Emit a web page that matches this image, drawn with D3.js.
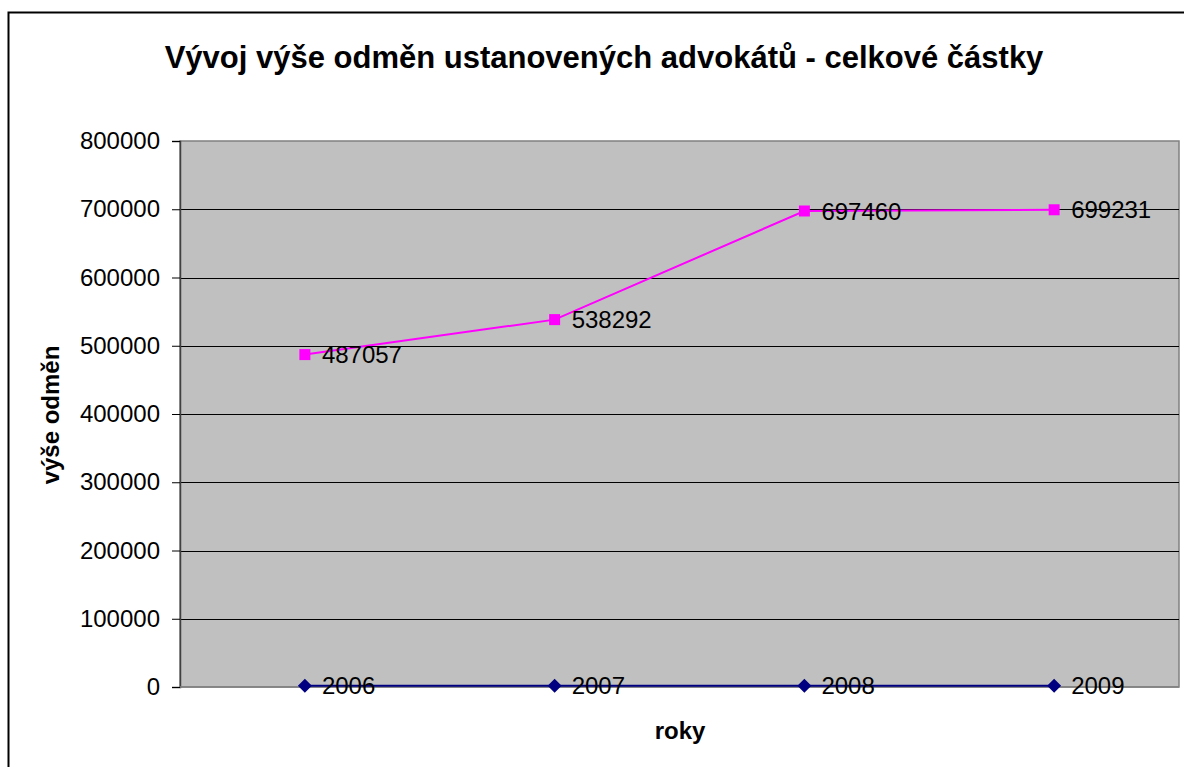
<!DOCTYPE html>
<html><head><meta charset="utf-8">
<script src="https://cdn.jsdelivr.net/npm/d3@7"></script>
<style>body{margin:0;background:#fff;overflow:hidden;} svg{display:block;font-family:"Liberation Sans",Arial,sans-serif;}</style>
</head><body>
<svg id="c" width="1184" height="767"></svg>
<script>
const categories = ["2006", "2007", "2008", "2009"];
const seriesYears = [2006, 2007, 2008, 2009];
const seriesAmounts = [487057, 538292, 697460, 699231];
const yTicks = [0, 100000, 200000, 300000, 400000, 500000, 600000, 700000, 800000];
const titleText = "Vývoj výše odměn ustanovených advokátů - celkové částky";
const yTitle = "výše odměn";
const xTitle = "roky";

const svg = d3.select("#c");
const L = 180, R = 1179, T = 141, B = 687;

svg.append("rect").attr("x", 8.5).attr("y", 12.5).attr("width", 1400).attr("height", 1000)
  .attr("fill", "#fff").attr("stroke", "#000").attr("stroke-width", 2);

const x = d3.scaleBand().domain(categories).range([L, R]);
const y = d3.scaleLinear().domain([0, 800000]).range([B, T]);

svg.append("rect").attr("x", L).attr("y", T).attr("width", R - L).attr("height", B - T)
  .attr("fill", "#C0C0C0").attr("stroke", "#808080").attr("stroke-width", 1.5);

// gridlines
svg.append("g").selectAll("line").data(yTicks.filter(v => v > 0 && v < 800000)).join("line")
  .attr("x1", L).attr("x2", R).attr("y1", d => Math.round(y(d)) + 0.5).attr("y2", d => Math.round(y(d)) + 0.5)
  .attr("stroke", "#000").attr("stroke-width", 1);

// y axis
const yAxis = d3.axisLeft(y).tickValues(yTicks).tickSize(8).tickPadding(12).tickFormat(d => String(d));
const ga = svg.append("g").attr("transform", `translate(${L},0)`).call(yAxis);
ga.select(".domain").attr("stroke", "#404040").attr("stroke-width", 1.5);
ga.selectAll(".tick line").attr("stroke", "#000");
ga.selectAll(".tick text").attr("font-size", 24).attr("fill", "#000").attr("font-family", "Liberation Sans, Arial, sans-serif");

// bottom line
svg.append("line").attr("x1", L).attr("x2", R).attr("y1", B).attr("y2", B).attr("stroke", "#808080").attr("stroke-width", 1.5);

const cx = d => x(d) + x.bandwidth() / 2;

// navy series
const navy = categories.map((c, i) => ({c, v: seriesYears[i]}));
svg.append("path").datum(navy).attr("fill", "none").attr("stroke", "#000080").attr("stroke-width", 2)
  .attr("d", d3.line().x(d => cx(d.c)).y(d => y(d.v)));
svg.append("g").selectAll("path").data(navy).join("path")
  .attr("d", d => `M0,-7L7,0L0,7L-7,0Z`)
  .attr("transform", d => `translate(${cx(d.c)},${y(d.v)})`).attr("fill", "#000080");
svg.append("g").selectAll("text").data(navy).join("text")
  .attr("x", d => cx(d.c) + 17).attr("y", d => y(d.v)).attr("dy", "0.36em")
  .attr("font-size", 24).text(d => String(d.v));

// magenta series
const mag = categories.map((c, i) => ({c, v: seriesAmounts[i]}));
svg.append("path").datum(mag).attr("fill", "none").attr("stroke", "#FF00FF").attr("stroke-width", 2)
  .attr("d", d3.line().x(d => cx(d.c)).y(d => y(d.v)));
svg.append("g").selectAll("rect").data(mag).join("rect")
  .attr("x", d => cx(d.c) - 5.5).attr("y", d => y(d.v) - 5.5).attr("width", 11).attr("height", 11).attr("fill", "#FF00FF");
svg.append("g").selectAll("text").data(mag).join("text")
  .attr("x", d => cx(d.c) + 17).attr("y", d => y(d.v)).attr("dy", "0.36em")
  .attr("font-size", 24).text(d => String(d.v));

// titles
svg.append("text").attr("x", 604).attr("y", 68).attr("text-anchor", "middle")
  .attr("font-size", 31).attr("font-weight", "bold").text(titleText);
svg.append("text").attr("transform", "translate(59,415) rotate(-90)").attr("text-anchor", "middle")
  .attr("font-size", 24).attr("font-weight", "bold").text(yTitle);
svg.append("text").attr("x", 680).attr("y", 739).attr("text-anchor", "middle")
  .attr("font-size", 24).attr("font-weight", "bold").text(xTitle);
</script>
</body></html>
